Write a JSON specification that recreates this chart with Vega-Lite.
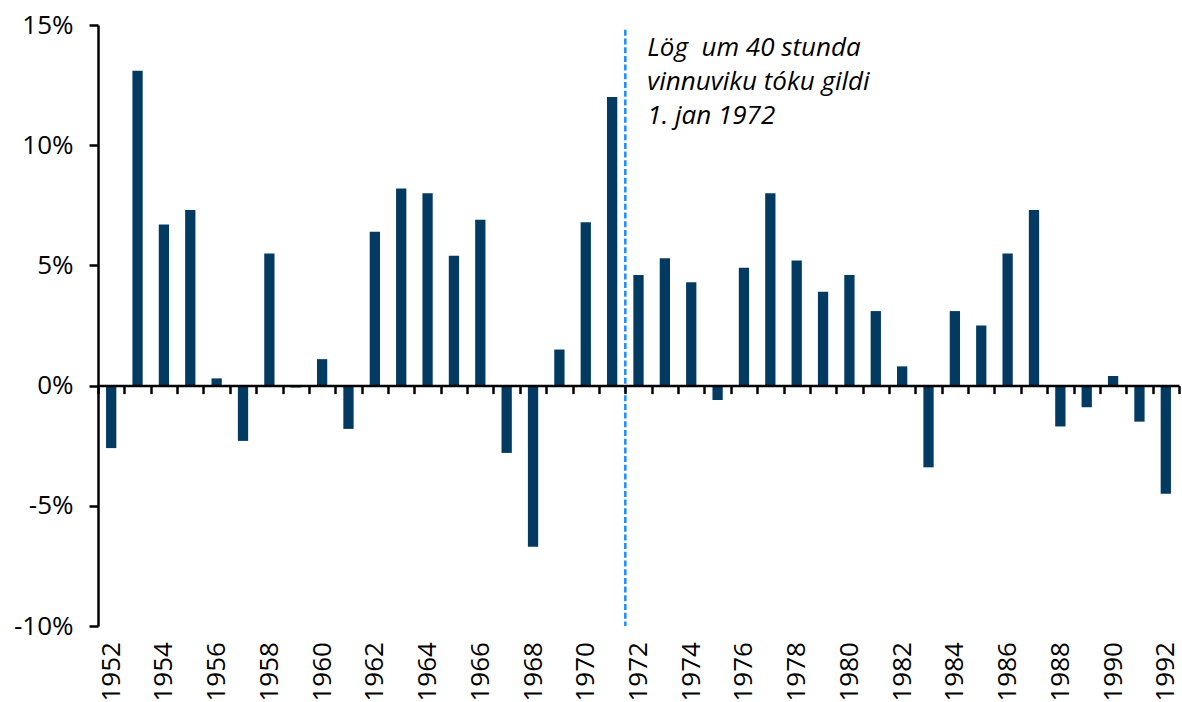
{
  "$schema": "https://vega.github.io/schema/vega-lite/v6.json",
  "width": 1081,
  "height": 601,
  "autosize": "none",
  "padding": {"left": 98, "top": 25, "right": 3, "bottom": 76},
  "background": "white",
  "config": {"view": {"stroke": null}, "font": "Open Sans"},
  "layer": [
    {
      "data": {"values": [
        {"year": 1952, "value": -2.6}, {"year": 1953, "value": 13.1}, {"year": 1954, "value": 6.7},
        {"year": 1955, "value": 7.3}, {"year": 1956, "value": 0.3}, {"year": 1957, "value": -2.3},
        {"year": 1958, "value": 5.5}, {"year": 1959, "value": -0.08}, {"year": 1960, "value": 1.1},
        {"year": 1961, "value": -1.8}, {"year": 1962, "value": 6.4}, {"year": 1963, "value": 8.2},
        {"year": 1964, "value": 8.0}, {"year": 1965, "value": 5.4}, {"year": 1966, "value": 6.9},
        {"year": 1967, "value": -2.8}, {"year": 1968, "value": -6.7}, {"year": 1969, "value": 1.5},
        {"year": 1970, "value": 6.8}, {"year": 1971, "value": 12.0}, {"year": 1972, "value": 4.6},
        {"year": 1973, "value": 5.3}, {"year": 1974, "value": 4.3}, {"year": 1975, "value": -0.6},
        {"year": 1976, "value": 4.9}, {"year": 1977, "value": 8.0}, {"year": 1978, "value": 5.2},
        {"year": 1979, "value": 3.9}, {"year": 1980, "value": 4.6}, {"year": 1981, "value": 3.1},
        {"year": 1982, "value": 0.8}, {"year": 1983, "value": -3.4}, {"year": 1984, "value": 3.1},
        {"year": 1985, "value": 2.5}, {"year": 1986, "value": 5.5}, {"year": 1987, "value": 7.3},
        {"year": 1988, "value": -1.7}, {"year": 1989, "value": -0.9}, {"year": 1990, "value": 0.4},
        {"year": 1991, "value": -1.5}, {"year": 1992, "value": -4.5}
      ]},
      "mark": {"type": "bar", "color": "#023a62", "width": {"band": 0.39}},
      "encoding": {
        "x": {
          "field": "year", "type": "ordinal",
          "scale": {"paddingInner": 0, "paddingOuter": 0},
          "axis": {
            "title": null, "orient": "bottom", "offset": -240.4, "zindex": 1,
            "domainColor": "#000", "domainWidth": 2.5,
            "tickColor": "#000", "tickWidth": 2.5, "tickSize": 8, "tickBand": "extent",
            "labelAngle": -90, "labelPadding": 248, "labelFontSize": 26, "labelColor": "#000",
            "labelOverlap": false, "labelFont": "Open Sans",
            "labelExpr": "datum.value % 2 == 0 ? datum.label : ''"
          }
        },
        "y": {
          "field": "value", "type": "quantitative",
          "scale": {"domain": [-10, 15], "nice": false},
          "axis": {
            "title": null, "values": [-10, -5, 0, 5, 10, 15], "grid": false, "zindex": 1,
            "labelExpr": "datum.value + '%'",
            "domainColor": "#000", "domainWidth": 2.5,
            "tickColor": "#000", "tickWidth": 2.5, "tickSize": 9,
            "labelPadding": 16, "labelFontSize": 26, "labelColor": "#000", "labelFont": "Open Sans"
          }
        }
      }
    },
    {
      "data": {"values": [{"year": 1972, "note": "Lög \u00a0um 40 stunda\nvinnuviku tóku gildi\n1. jan 1972"}]},
      "layer": [
        {
          "mark": {"type": "rule", "color": "#1a8cff", "strokeWidth": 2.5, "strokeDash": [6, 2.7]},
          "encoding": {
            "x": {"field": "year", "type": "ordinal", "bandPosition": 0},
            "y": {"datum": 14.8},
            "y2": {"datum": -10}
          }
        },
        {
          "mark": {"type": "text", "align": "left", "baseline": "alphabetic", "dx": 22,
                   "fontSize": 26, "fontStyle": "italic", "lineHeight": 34, "lineBreak": "\n",
                   "color": "#000", "font": "Open Sans"},
          "encoding": {
            "x": {"field": "year", "type": "ordinal", "bandPosition": 0},
            "y": {"datum": 13.73},
            "text": {"field": "note"}
          }
        }
      ]
    }
  ]
}
